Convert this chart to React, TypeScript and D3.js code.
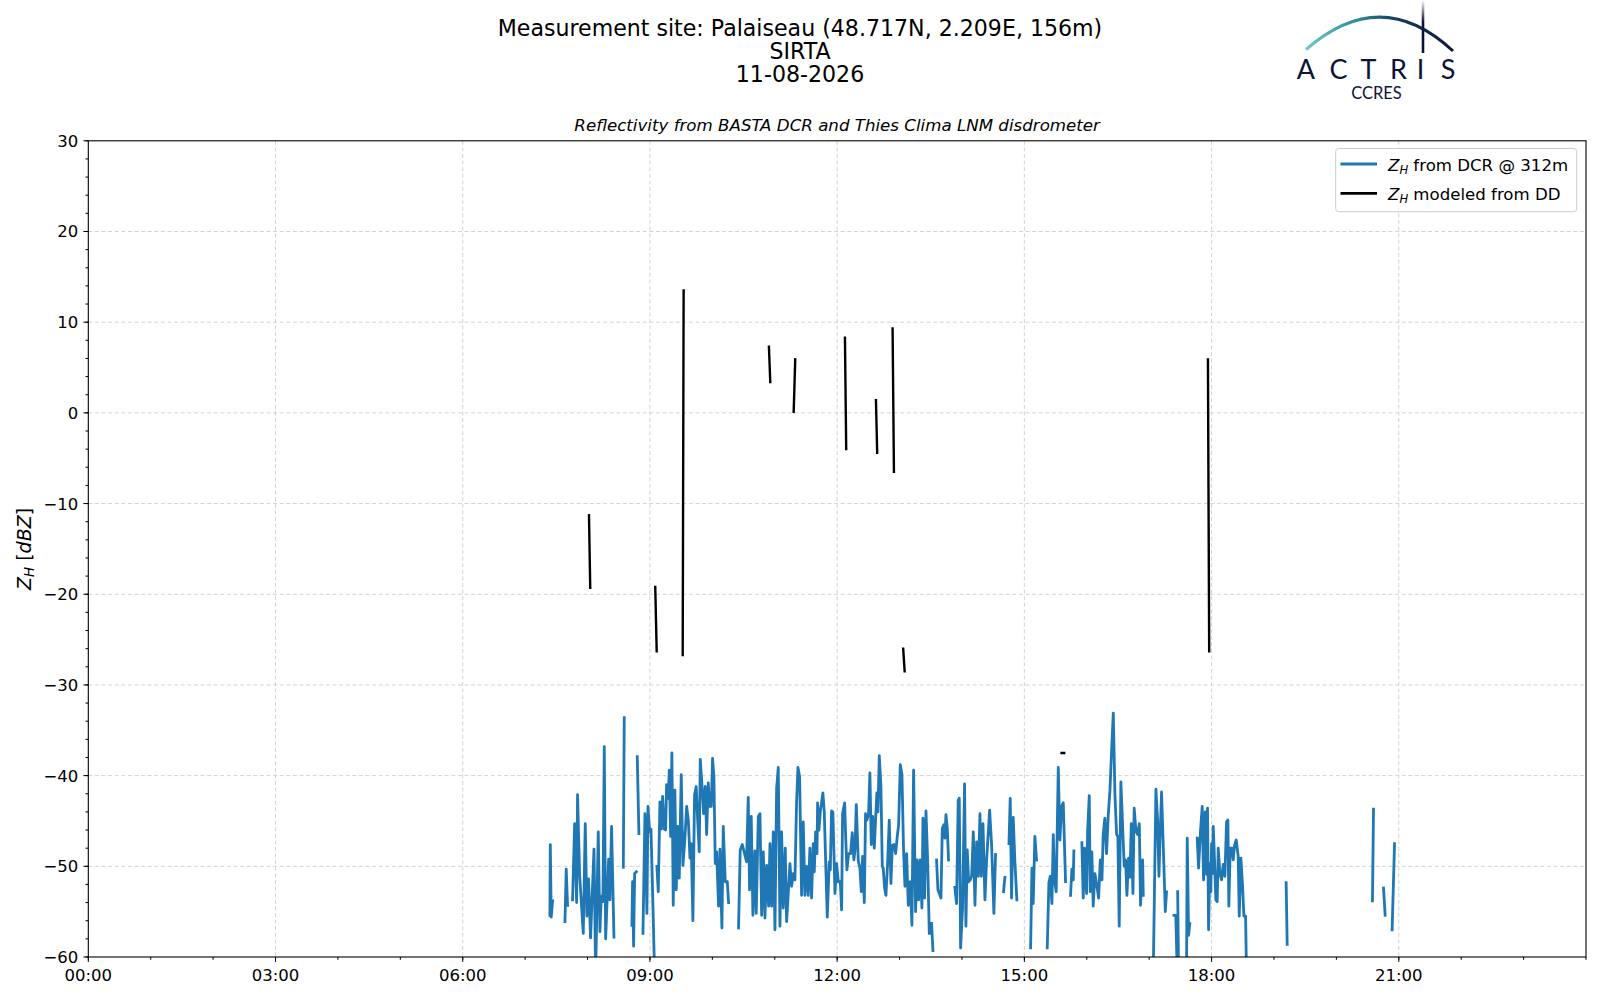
import React from 'react';
import * as d3 from 'd3';

// ---------- DATA ----------
const titleLines = ['Measurement site: Palaiseau (48.717N, 2.209E, 156m)', 'SIRTA', '11-08-2026'];
const subtitle = 'Reflectivity from BASTA DCR and Thies Clima LNM disdrometer';

// x ticks in minutes after midnight
const xMajorTicks = [0, 180, 360, 540, 720, 900, 1080, 1260];
const xMajorLabels = ['00:00', '03:00', '06:00', '09:00', '12:00', '15:00', '18:00', '21:00'];
const xMinorTicks = d3.range(0, 1441, 60);
const yMajorTicks = [-60, -50, -40, -30, -20, -10, 0, 10, 20, 30];
const yMinorTicks = d3.range(-60, 31, 2);

// Z_H from DCR @ 312m : [minute of day, dBZ]; null = gap
const dcrPoints: ([number, number] | null)[] = [
  [443.8, -55.4], [444.2, -47.6], [445.1, -55.6], [446.4, -53.8], null,
  [458.3, -56.1], [459.5, -50.3], [460.8, -54.3], null,
  [465.6, -53.7], [467.6, -45.3], [469.5, -54.0], [470.4, -42.1], [472.4, -51.0], [475.9, -57.4], [477.8, -45.3],
  [479.4, -55.5], [481.0, -51.4], [482.9, -57.9], [486.2, -48.1], [487.8, -62], [488.7, -56.2], [490.3, -46.2],
  [491.9, -57.2], [493.2, -53.3], [494.8, -53.9], [496.1, -36.8], [497.4, -58.0], [499.0, -53.3], [500.3, -49.2],
  [501.5, -53.7], [503.1, -45.6], [505.4, -57.8], null,
  [514.4, -50.1], [515.3, -33.6], null,
  [522.7, -56.5], [523.3, -51.7], [524.3, -58.8], [525.3, -50.8], [526.9, -50.6], null,
  [527.8, -37.9], [529.4, -46.4], null,
  [533.3, -57.4], [535.2, -44.2], [537.1, -55.2], [538.1, -43.4], [539.7, -46.2], [541.0, -45.9], [542.6, -53.0], [544.5, -62], null,
  [546.7, -50.0], [548.0, -52.8], [549.6, -42.9], [550.9, -45.9], [552.2, -42.3], [553.8, -45.9], [555.1, -46.0],
  [556.0, -41.0], [557.6, -42.5], [558.6, -39.4], [559.9, -46.7], [561.1, -37.5], [562.4, -54.3], [564.0, -41.6],
  [565.3, -52.6], [566.9, -45.6], [568.2, -51.3], [570.1, -39.9], [571.7, -49.9], [573.3, -47.5], [575.3, -43.4],
  [576.9, -44.9], [578.5, -49.1], [579.7, -47.5], [581.3, -56.0], [582.9, -42.1], [584.5, -41.2], [585.8, -44.7],
  [587.4, -48.4], [588.4, -38.2], [590.0, -41.0], [591.6, -44.2], [593.2, -41.2], [594.5, -46.5], [596.1, -40.8],
  [597.4, -43.4], [599.0, -43.4], [600.2, -38.1], [601.5, -40.1], [602.8, -49.7], [604.1, -48.4], [606.0, -54.4],
  [607.3, -48.1], [609.2, -56.8], [610.5, -45.6], [612.4, -51.7], [614.4, -51.7], [615.6, -54.0], null,
  [625.2, -56.8], [626.8, -48.2], [628.8, -47.6], [632.9, -49.5], [634.5, -42.4], [635.8, -52.6], [637.4, -44.5],
  [639.0, -55.4], [640.9, -48.3], [642.2, -55.2], [644.2, -44.5], [645.8, -44.2], [647.4, -55.4], [649.0, -48.4],
  [650.6, -55.7], [652.2, -49.9], [654.1, -54.4], [655.4, -47.5], [657.0, -54.4], [658.6, -46.2], [660.2, -57.0],
  [661.8, -41.4], [663.4, -39.1], [665.0, -56.6], [666.6, -46.2], [668.2, -54.6], [670.1, -48.0], [671.4, -56.1],
  [673.0, -53.0], [674.6, -49.7], [676.2, -52.2], [677.8, -50.8], [679.4, -51.5], [681.0, -42.9], [682.3, -39.1],
  [683.9, -40.1], [685.8, -53.2], [687.4, -45.1], [689.0, -53.2], [690.6, -50.0], [692.2, -53.2], [693.8, -48.0],
  [695.4, -53.5], [697.0, -47.5], [698.0, -50.6], [699.3, -46.2], [700.6, -48.6], [701.2, -43.0], [702.5, -46.0],
  [703.8, -44.0], [706.3, -41.9], [707.6, -44.0], [710.5, -55.6], [712.4, -49.5], [713.4, -50.4], [714.6, -43.9],
  [715.9, -44.0], [717.9, -53.0], [719.5, -49.7], [721.1, -51.7], [723.0, -51.7], [724.3, -54.8], [725.2, -44.2],
  [727.2, -43.0], [728.1, -46.4], [729.4, -50.4], [731.0, -48.6], [732.9, -48.6], [734.5, -46.3], [736.1, -49.3],
  [737.1, -48.2], [738.4, -43.2], [740.3, -49.4], [741.9, -50.2], [743.2, -52.8], [744.5, -48.9], [746.1, -54.0],
  [747.3, -44.2], [748.6, -44.9], [750.2, -44.2], [751.5, -39.7], [752.8, -47.6], [754.1, -44.5], [755.7, -48.0],
  [757.0, -44.7], [758.2, -41.9], [759.2, -44.0], [760.5, -37.8], [762.1, -41.2], [763.4, -50.0], [764.3, -50.2],
  [765.6, -52.4], [766.9, -53.2], [768.5, -49.7], [770.1, -44.9], [771.7, -51.9], [773.0, -47.7], [774.6, -47.6],
  [776.2, -48.6], [777.8, -46.7], [779.1, -45.4], [780.7, -38.8], [782.3, -39.9], [783.9, -48.4], [785.2, -52.2],
  [786.8, -48.6], [788.4, -54.3], [790.3, -51.7], [791.9, -56.5], [793.5, -39.4], [795.4, -55.0], [797.0, -49.3],
  [798.3, -53.7], [799.9, -49.3], [801.5, -54.6], [802.5, -44.7], [804.1, -53.5], [805.4, -43.9], [807.0, -49.3],
  [808.6, -57.4], null,
  [810.8, -56.3], [812.1, -59.3], null,
  [815.6, -49.3], [816.9, -52.6], [818.2, -53.0], [819.8, -53.5], [821.1, -45.8], [822.7, -45.4], [823.6, -46.9],
  [824.6, -44.3], [825.9, -45.8], [827.1, -49.3], null,
  [833.2, -52.3], [834.8, -54.1], [836.4, -42.7], [837.4, -42.5], [838.7, -59.0], [840.6, -54.6], [842.5, -40.9],
  [843.8, -56.6], [845.1, -48.2], [846.4, -51.7], [848.0, -51.5], [849.3, -51.1], [850.9, -46.2], [852.5, -54.3],
  [854.1, -47.3], [855.7, -51.1], [857.3, -44.2], [858.6, -51.1], [860.2, -45.3], [862.1, -53.7], [863.7, -49.3],
  [865.0, -46.9], [866.6, -43.8], [868.5, -47.6], [870.7, -55.2], [872.3, -48.7], null,
  [880.0, -52.8], [881.3, -51.2], null,
  [885.2, -47.5], [886.4, -42.5], [887.7, -53.5], [889.3, -44.6], [890.9, -49.5], [892.8, -53.7], null,
  [906.0, -59.0], [907.3, -50.2], [908.5, -54.1], [910.1, -46.7], [911.7, -49.3], null,
  [922.0, -59.0], [923.6, -51.8], [924.9, -51.1], [926.5, -54.1], [927.8, -46.5], [929.0, -51.5], [930.6, -52.8],
  [932.6, -39.1], [934.2, -47.1], [935.8, -43.4], [937.4, -43.0], [939.6, -51.7], null,
  [944.4, -53.2], [945.7, -50.3], [947.0, -51.5], [947.6, -48.3], null,
  [955.3, -47.4], [956.6, -53.5], [957.9, -48.0], [959.8, -53.0], [960.8, -46.2], [962.4, -42.2], [963.3, -52.8],
  [964.9, -48.4], [966.2, -54.4], [967.8, -50.8], [969.4, -51.9], [971.4, -53.5], [973.0, -49.3], [974.6, -51.5],
  [975.8, -46.5], [977.4, -44.7], [979.0, -48.6], [980.6, -44.5], [982.3, -41.6], [983.9, -37.2], [985.5, -33.1],
  [987.1, -42.1], [988.7, -46.5], [989.9, -46.7], [991.2, -56.6], [992.8, -40.7], [996.0, -50.0], [997.3, -49.3],
  [998.6, -53.2], [1000.2, -49.1], [1001.5, -51.2], [1002.8, -45.3], [1004.4, -53.0], [1005.6, -43.6], [1007.2, -46.0],
  [1008.9, -46.5], [1010.5, -45.3], [1011.7, -54.3], [1013.7, -49.3], [1014.3, -53.2], null,
  [1023.9, -62], [1025.5, -49.3], [1026.5, -41.5], [1028.1, -44.9], [1029.4, -51.1], [1030.3, -47.4], [1031.9, -41.8],
  [1033.5, -47.5], [1035.5, -55.0], [1036.7, -52.8], null,
  [1043.8, -55.4], [1045.6, -55.4], [1047.0, -62], null,
  [1047.4, -52.8], [1048.3, -62], null,
  [1055.9, -62], [1056.6, -46.9], [1057.9, -57.6], [1059.1, -56.3], null,
  [1066.2, -46.9], [1067.5, -50.2], [1069.4, -46.0], [1071.0, -43.4], [1072.3, -51.5], [1073.9, -44.0], [1075.2, -50.9],
  [1076.1, -43.6], [1077.1, -57.0], [1078.4, -49.7], [1079.3, -52.8], [1080.0, -47.5], [1080.9, -50.8], [1081.6, -45.6],
  [1082.5, -48.2], [1084.1, -53.7], [1085.4, -53.9], [1086.4, -48.0], [1088.0, -50.8], [1089.6, -51.5], [1091.2, -49.8],
  [1092.8, -51.1], [1094.4, -45.1], [1095.7, -44.9], [1096.6, -54.4], [1097.9, -48.0], [1099.5, -48.0], [1100.8, -49.3],
  [1102.1, -47.7], [1103.7, -47.1], [1105.6, -48.9], [1106.6, -55.5], [1108.2, -49.1], [1109.8, -52.2], [1111.1, -55.5],
  [1112.7, -55.5], [1113.6, -62], null,
  [1151.7, -51.8], [1152.7, -58.6], null,
  [1234.7, -53.8], [1235.7, -43.7], null,
  [1245.3, -52.4], [1246.9, -55.4], null,
  [1253.6, -57.0], [1255.9, -47.5],
];

// Z_H modeled from DD : [minute of day, dBZ]; null = gap
const ddPoints: ([number, number] | null)[] = [
  [481.4, -11.3], [482.6, -19.3], null,
  [545.1, -19.2], [546.5, -26.3], null,
  [572.4, 13.5], [571.5, -26.7], null,
  [654.4, 7.3], [655.7, 3.4], null,
  [679.7, 5.9], [678.2, 0.1], null,
  [727.5, 8.3], [728.7, -4.0], null,
  [757.3, 1.4], [758.5, -4.4], null,
  [773.3, 9.3], [774.6, -6.5], null,
  [783.5, -26.0], [784.9, -28.5], null,
  [935.8, -37.5], [938.3, -37.5], null,
  [1076.5, 5.9], [1077.7, -26.3],
];

// ---------- LAYOUT ----------
const W = 1600;
const H = 1000;
const PL = 88.3, PR = 1586, PT = 140.8, PB = 957;
const FONT = "'DejaVu Sans', sans-serif";
const BLUE = '#1f77b4';

export default function App() {
  const x = d3.scaleLinear().domain([0, 1440]).range([PL, PR]);
  const y = d3.scaleLinear().domain([-60, 30]).range([PB, PT]);
  const line = d3
    .line<[number, number] | null>()
    .defined((d) => d !== null)
    .x((d) => x((d as [number, number])[0]))
    .y((d) => y((d as [number, number])[1]));

  const tickFs = 16.5;
  const legFs = 16.6;

  return (
    <svg width={W} height={H} viewBox={`0 0 ${W} ${H}`} style={{ position: 'absolute', left: 0, top: 0, background: '#fff' }} fontFamily={FONT}>
      <defs>
        <clipPath id="plotclip">
          <rect x={PL} y={PT} width={PR - PL} height={PB - PT} />
        </clipPath>
        <linearGradient id="arcgrad" x1="1306" y1="0" x2="1456" y2="0" gradientUnits="userSpaceOnUse">
          <stop offset="0" stopColor="#6cc9c3" />
          <stop offset="0.35" stopColor="#2d8a96" />
          <stop offset="0.6" stopColor="#143c5e" />
          <stop offset="1" stopColor="#0c1437" />
        </linearGradient>
        <linearGradient id="vgrad" x1="0" y1="0" x2="0" y2="54" gradientUnits="userSpaceOnUse">
          <stop offset="0" stopColor="#0c1437" stopOpacity="0" />
          <stop offset="0.4" stopColor="#0c1437" stopOpacity="1" />
          <stop offset="1" stopColor="#0c1437" stopOpacity="1" />
        </linearGradient>
      </defs>
      <rect x={0} y={0} width={W} height={H} fill="#fff" />

      {/* Titles */}
      {titleLines.map((t, i) => (
        <text key={t} x={800} y={36.3 + i * 23} textAnchor="middle" fontSize={22.1} fill="#000">
          {t}
        </text>
      ))}
      <text x={(PL + PR) / 2} y={130.6} textAnchor="middle" fontSize={16.67} fontStyle="italic" fill="#000">
        {subtitle}
      </text>

      {/* Logo */}
      <g>
        <path d="M1306,49.5 Q1381,-16 1453,51" fill="none" stroke="url(#arcgrad)" strokeWidth={3} />
        <line x1={1423} y1={1} x2={1423} y2={53} stroke="url(#vgrad)" strokeWidth={2.6} />
        {[
          ['A', 1306],
          ['C', 1338.5],
          ['T', 1368.5],
          ['R', 1398.5],
          ['I', 1420.5],
          ['S', 1448],
        ].map(([ch, cx]) => (
          <text key={ch as string} x={cx as number} y={78.5} textAnchor="middle" fontSize={27} fontFamily="Lato, 'Noto Sans', sans-serif" fontWeight={400} fill="#0c1437">
            {ch}
          </text>
        ))}
        <text x={1376.5} y={99} textAnchor="middle" fontSize={16.5} fontFamily="Lato, 'Noto Sans', sans-serif" fill="#0c1437">
          CCRES
        </text>
      </g>

      {/* Grid */}
      <g stroke="#d3d3d3" strokeWidth={1} strokeDasharray="4,2.6">
        {xMajorTicks.filter((t) => t > 0).map((t) => (
          <line key={'gx' + t} x1={x(t)} x2={x(t)} y1={PT} y2={PB} />
        ))}
        {yMajorTicks.filter((t) => t > -60 && t < 30).map((t) => (
          <line key={'gy' + t} x1={PL} x2={PR} y1={y(t)} y2={y(t)} />
        ))}
      </g>

      {/* Data */}
      <g clipPath="url(#plotclip)">
        <path d={line(dcrPoints) || ''} fill="none" stroke={BLUE} strokeWidth={2.8} strokeLinejoin="round" strokeLinecap="square" />
        <path d={line(ddPoints) || ''} fill="none" stroke="#000" strokeWidth={2.4} strokeLinejoin="round" strokeLinecap="square" />
      </g>

      {/* Spines */}
      <rect x={PL} y={PT} width={PR - PL} height={PB - PT} fill="none" stroke="#000" strokeWidth={1.1} />

      {/* Ticks */}
      <g stroke="#000" strokeWidth={1}>
        {xMinorTicks.map((t) => (
          <line key={'mx' + t} x1={x(t)} x2={x(t)} y1={PB} y2={PB + 2.8} />
        ))}
        {xMajorTicks.map((t) => (
          <line key={'Mx' + t} x1={x(t)} x2={x(t)} y1={PB} y2={PB + 4.9} />
        ))}
        {yMinorTicks.map((t) => (
          <line key={'my' + t} x1={PL - 2.8} x2={PL} y1={y(t)} y2={y(t)} />
        ))}
        {yMajorTicks.map((t) => (
          <line key={'My' + t} x1={PL - 4.9} x2={PL} y1={y(t)} y2={y(t)} />
        ))}
      </g>
      {xMajorTicks.map((t, i) => (
        <text key={'lx' + t} x={x(t)} y={PB + 23.5} textAnchor="middle" fontSize={tickFs} fill="#000">
          {xMajorLabels[i]}
        </text>
      ))}
      {yMajorTicks.map((t) => (
        <text key={'ly' + t} x={PL - 10} y={y(t) + 6} textAnchor="end" fontSize={tickFs} fill="#000">
          {t < 0 ? '\u2212' + Math.abs(t) : String(t)}
        </text>
      ))}

      {/* Y label */}
      <text transform={`translate(30.5, ${(PT + PB) / 2}) rotate(-90)`} textAnchor="middle" fontSize={19} fill="#000">
        <tspan fontStyle="italic">Z</tspan>
        <tspan fontStyle="italic" fontSize={13.3} dy={3.7}>H</tspan>
        <tspan dy={-3.7}> [</tspan>
        <tspan fontStyle="italic">dBZ</tspan>
        <tspan>]</tspan>
      </text>

      {/* Legend */}
      <g>
        <rect x={1335.7} y={148.5} width={241} height={63.2} rx={3} fill="#fff" fillOpacity={0.8} stroke="#cccccc" strokeWidth={1} />
        <line x1={1340.5} x2={1377} y1={164} y2={164} stroke={BLUE} strokeWidth={2.8} />
        <line x1={1340.5} x2={1377} y1={193.3} y2={193.3} stroke="#000" strokeWidth={2.8} />
        <text x={1388} y={170.6} fontSize={legFs} fill="#000">
          <tspan fontStyle="italic">Z</tspan>
          <tspan fontStyle="italic" fontSize={11.6} dy={3.2}>H</tspan>
          <tspan dy={-3.2}> from DCR @ 312m</tspan>
        </text>
        <text x={1388} y={199.9} fontSize={legFs} fill="#000">
          <tspan fontStyle="italic">Z</tspan>
          <tspan fontStyle="italic" fontSize={11.6} dy={3.2}>H</tspan>
          <tspan dy={-3.2}> modeled from DD</tspan>
        </text>
      </g>
    </svg>
  );
}
